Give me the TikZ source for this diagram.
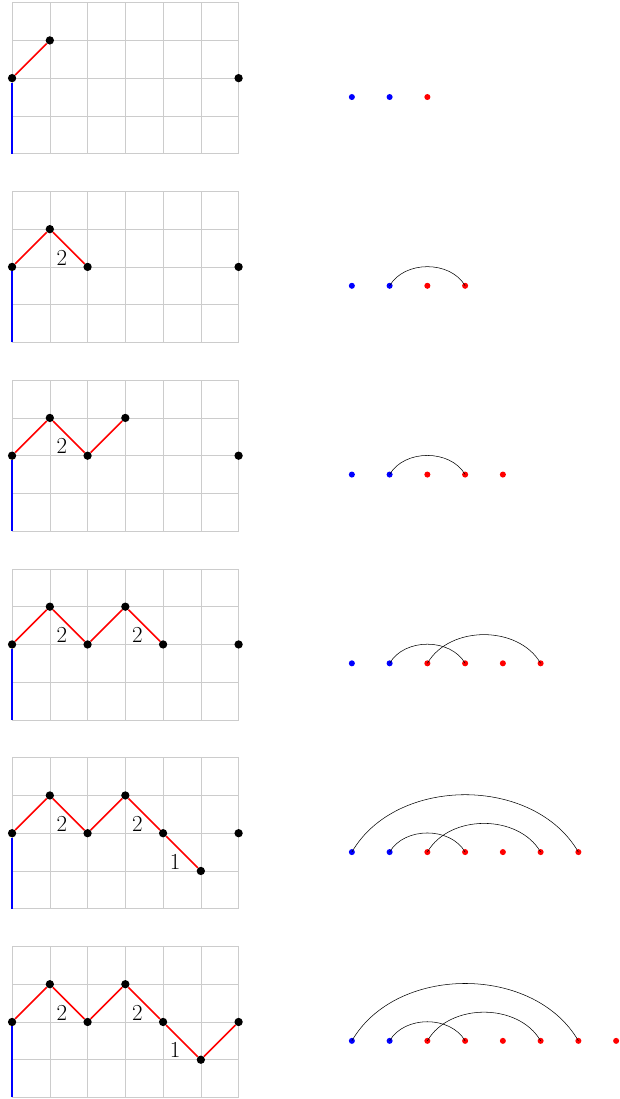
\documentclass[tikz,border=0pt]{standalone}
\usepackage{tikz}
\tikzset{
  gridline/.style={draw=gray!40, line width=0.5pt},
  wallline/.style={draw=blue, very thick},
  stepline/.style={draw=red, very thick},
  vtx/.style={circle, fill=black, inner sep=0pt, minimum size=2.2mm},
  bluedot/.style={circle, fill=blue, inner sep=0pt, minimum size=1.6mm},
  reddot/.style={circle, fill=red, inner sep=0pt, minimum size=1.6mm},
  arcline/.style={draw=black, thin},
  steplabel/.style={font=\LARGE, inner sep=0pt}
}

\begin{document}
\begin{tikzpicture}
  \useasboundingbox (-0.32,-0.04) rectangle (16.10,29.07);

  % step 1
  \begin{scope}[yshift=25cm, name prefix=a-]
    \draw[gridline] (0,0) grid (6,4);
    \coordinate (base) at (0,0);
    \node[vtx] (v0) at (0,2) {};
    \node[vtx] (v1) at (1,3) {};
    \node[vtx] (end) at (6,2) {};
    \draw[wallline] (base) -- (v0);
    \draw[stepline] (v0) -- (v1);
    \foreach \x in {9,10} \node[bluedot] (d\x) at (\x,1.5) {};
    \foreach \x in {11} \node[reddot] (d\x) at (\x,1.5) {};
  \end{scope}

  % step 2
  \begin{scope}[yshift=20cm, name prefix=b-]
    \draw[gridline] (0,0) grid (6,4);
    \coordinate (base) at (0,0);
    \node[vtx] (v0) at (0,2) {};
    \node[vtx] (v1) at (1,3) {};
    \node[vtx] (v2) at (2,2) {};
    \node[vtx] (end) at (6,2) {};
    \draw[wallline] (base) -- (v0);
    \draw[stepline] (v0) -- (v1) -- (v2);
    \node[steplabel] (l1) at (1.32,2.25) {2};
    \foreach \x in {9,10} \node[bluedot] (d\x) at (\x,1.5) {};
    \foreach \x in {11,12} \node[reddot] (d\x) at (\x,1.5) {};
    \draw[arcline] (d10.center) to[out=60, in=120] (d12.center);
  \end{scope}

  % step 3
  \begin{scope}[yshift=15cm, name prefix=c-]
    \draw[gridline] (0,0) grid (6,4);
    \coordinate (base) at (0,0);
    \node[vtx] (v0) at (0,2) {};
    \node[vtx] (v1) at (1,3) {};
    \node[vtx] (v2) at (2,2) {};
    \node[vtx] (v3) at (3,3) {};
    \node[vtx] (end) at (6,2) {};
    \draw[wallline] (base) -- (v0);
    \draw[stepline] (v0) -- (v1) -- (v2) -- (v3);
    \node[steplabel] (l1) at (1.32,2.25) {2};
    \foreach \x in {9,10} \node[bluedot] (d\x) at (\x,1.5) {};
    \foreach \x in {11,...,13} \node[reddot] (d\x) at (\x,1.5) {};
    \draw[arcline] (d10.center) to[out=60, in=120] (d12.center);
  \end{scope}

  % step 4
  \begin{scope}[yshift=10cm, name prefix=d-]
    \draw[gridline] (0,0) grid (6,4);
    \coordinate (base) at (0,0);
    \node[vtx] (v0) at (0,2) {};
    \node[vtx] (v1) at (1,3) {};
    \node[vtx] (v2) at (2,2) {};
    \node[vtx] (v3) at (3,3) {};
    \node[vtx] (v4) at (4,2) {};
    \node[vtx] (end) at (6,2) {};
    \draw[wallline] (base) -- (v0);
    \draw[stepline] (v0) -- (v1) -- (v2) -- (v3) -- (v4);
    \node[steplabel] (l1) at (1.32,2.25) {2};
    \node[steplabel] (l2) at (3.32,2.25) {2};
    \foreach \x in {9,10} \node[bluedot] (d\x) at (\x,1.5) {};
    \foreach \x in {11,...,14} \node[reddot] (d\x) at (\x,1.5) {};
    \draw[arcline] (d10.center) to[out=60, in=120] (d12.center);
    \draw[arcline] (d11.center) to[out=60, in=120] (d14.center);
  \end{scope}

  % step 5
  \begin{scope}[yshift=5cm, name prefix=e-]
    \draw[gridline] (0,0) grid (6,4);
    \coordinate (base) at (0,0);
    \node[vtx] (v0) at (0,2) {};
    \node[vtx] (v1) at (1,3) {};
    \node[vtx] (v2) at (2,2) {};
    \node[vtx] (v3) at (3,3) {};
    \node[vtx] (v4) at (4,2) {};
    \node[vtx] (v5) at (5,1) {};
    \node[vtx] (end) at (6,2) {};
    \draw[wallline] (base) -- (v0);
    \draw[stepline] (v0) -- (v1) -- (v2) -- (v3) -- (v4) -- (v5);
    \node[steplabel] (l1) at (1.32,2.25) {2};
    \node[steplabel] (l2) at (3.32,2.25) {2};
    \node[steplabel] (l3) at (4.32,1.25) {1};
    \foreach \x in {9,10} \node[bluedot] (d\x) at (\x,1.5) {};
    \foreach \x in {11,...,15} \node[reddot] (d\x) at (\x,1.5) {};
    \draw[arcline] (d10.center) to[out=60, in=120] (d12.center);
    \draw[arcline] (d11.center) to[out=60, in=120] (d14.center);
    \draw[arcline] (d9.center) to[out=60, in=120] (d15.center);
  \end{scope}

  % step 6
  \begin{scope}[name prefix=f-]
    \draw[gridline] (0,0) grid (6,4);
    \coordinate (base) at (0,0);
    \node[vtx] (v0) at (0,2) {};
    \node[vtx] (v1) at (1,3) {};
    \node[vtx] (v2) at (2,2) {};
    \node[vtx] (v3) at (3,3) {};
    \node[vtx] (v4) at (4,2) {};
    \node[vtx] (v5) at (5,1) {};
    \node[vtx] (end) at (6,2) {};
    \draw[wallline] (base) -- (v0);
    \draw[stepline] (v0) -- (v1) -- (v2) -- (v3) -- (v4) -- (v5) -- (end);
    \node[steplabel] (l1) at (1.32,2.25) {2};
    \node[steplabel] (l2) at (3.32,2.25) {2};
    \node[steplabel] (l3) at (4.32,1.25) {1};
    \foreach \x in {9,10} \node[bluedot] (d\x) at (\x,1.5) {};
    \foreach \x in {11,...,16} \node[reddot] (d\x) at (\x,1.5) {};
    \draw[arcline] (d10.center) to[out=60, in=120] (d12.center);
    \draw[arcline] (d11.center) to[out=60, in=120] (d14.center);
    \draw[arcline] (d9.center) to[out=60, in=120] (d15.center);
  \end{scope}
\end{tikzpicture}
\end{document}
